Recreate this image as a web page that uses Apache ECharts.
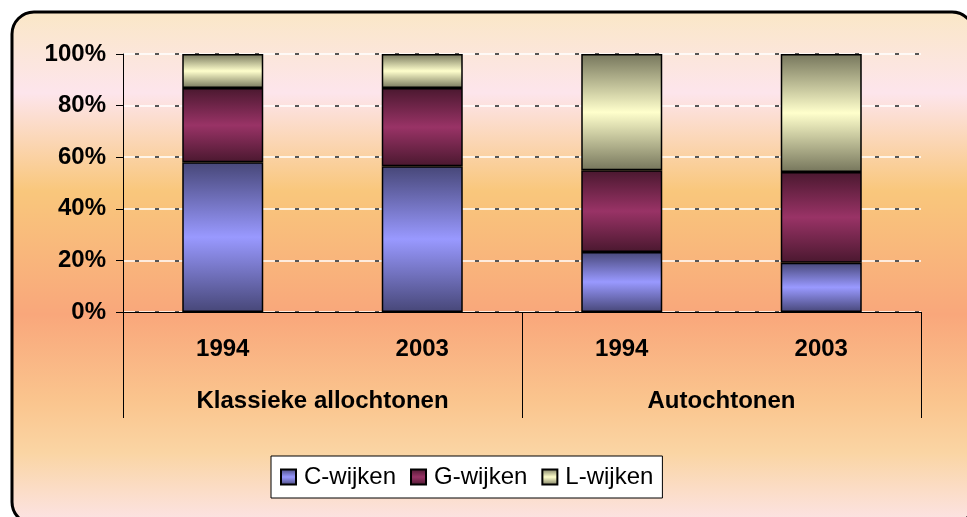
<!DOCTYPE html>
<html lang="nl">
<head>
  <meta charset="UTF-8">
  <title>Wijken</title>
  <script src="https://cdn.jsdelivr.net/npm/echarts@6/dist/echarts.min.js"></script>
  <style>
    html, body { margin: 0; padding: 0; background: #fff; }
    #main { width: 967px; height: 517px; }
  </style>
</head>
<body>

<div id="main"></div>

<script>
  // data (percent per bar)
  var years = ['1994', '2003', '1994', '2003'];
  var groups = ['Klassieke allochtonen', 'Autochtonen'];
  var cWijken = [58.0, 56.5, 23.3, 19.1];
  var gWijken = [28.8, 30.3, 31.6, 35.2];
  var lWijken = [13.2, 13.2, 45.1, 45.7];

  var font = '"Liberation Sans", Arial, sans-serif';

  function band(dark, light) {
    return {
      type: 'linear', x: 0, y: 0, x2: 0, y2: 1,
      colorStops: [
        {offset: 0, color: dark},
        {offset: 0.5, color: light},
        {offset: 1, color: dark}
      ]
    };
  }

  function bar(name, data, dark, light) {
    return {
      name: name,
      type: 'bar',
      stack: 'all',
      barWidth: 81,
      data: data,
      itemStyle: {
        color: band(dark, light),
        borderColor: '#000',
        borderWidth: 1.5
      }
    };
  }

  var chart = echarts.init($('#main'));
  chart.setOption({
    animation: false,
    graphic: [{
      type: 'rect',
      z: -10,
      shape: {x: 12, y: 12, width: 962, height: 512, r: 22},
      style: {
        fill: {
          type: 'linear', x: 0, y: 0, x2: 0, y2: 1,
          colorStops: [
            {offset: 0, color: '#FAE7C6'},
            {offset: 0.16, color: '#FDE5EC'},
            {offset: 0.35, color: '#F9C77C'},
            {offset: 0.59, color: '#F9A77B'},
            {offset: 0.76, color: '#FAC58E'},
            {offset: 0.86, color: '#FAD5A4'},
            {offset: 1, color: '#FCE4E8'}
          ]
        },
        stroke: '#000',
        lineWidth: 3
      }
    }],
    grid: {left: 123, right: 46, top: 54, bottom: 205},
    legend: {
      left: 271,
      top: 456,
      icon: 'rect',
      itemWidth: 15,
      itemHeight: 15,
      itemGap: 14,
      padding: [9, 9, 9, 9],
      backgroundColor: '#fff',
      borderColor: '#000',
      borderWidth: 1,
      borderRadius: 0,
      textStyle: {fontFamily: font, fontSize: 24, color: '#000', padding: [0, 0, 0, 3]},
      data: ['C-wijken', 'G-wijken', 'L-wijken']
    },
    xAxis: [{
      type: 'category',
      position: 'bottom',
      data: years,
      axisLine: {lineStyle: {color: '#000', width: 1}},
      axisTick: {show: false},
      axisLabel: {fontFamily: font, fontSize: 24, fontWeight: 'bold', color: '#000', margin: 25}
    }, {
      type: 'category',
      position: 'bottom',
      offset: 0,
      data: groups,
      axisLine: {show: false},
      axisTick: {show: true, length: 106, lineStyle: {color: '#000', width: 1}},
      axisLabel: {fontFamily: font, fontSize: 24, fontWeight: 'bold', color: '#000', margin: 77}
    }],
    yAxis: [{
      type: 'value',
      position: 'left',
      min: 0,
      max: 100,
      interval: 20,
      axisLine: {show: true, lineStyle: {color: '#000', width: 1}},
      axisTick: {show: true, length: 7, lineStyle: {color: '#000'}},
      axisLabel: {formatter: '{value}%', fontFamily: font, fontSize: 24, fontWeight: 'bold', color: '#000', margin: 17},
      splitLine: {lineStyle: {color: '#fff', width: 1.5}}
    }, {
      type: 'value',
      position: 'left',
      min: 0,
      max: 100,
      interval: 20,
      axisLine: {show: false},
      axisTick: {show: false},
      axisLabel: {show: false},
      splitLine: {lineStyle: {color: '#555', width: 2, type: [4, 16], dashOffset: -12}}
    }],
    series: [
      bar('C-wijken', cWijken, '#474778', '#9999FF'),
      bar('G-wijken', gWijken, '#4A182F', '#993366'),
      bar('L-wijken', lWijken, '#76765C', '#FFFFCC')
    ]
  });

  function $(dom) {
    return document.querySelector(dom)
  }
</script>
</body>
</html>
